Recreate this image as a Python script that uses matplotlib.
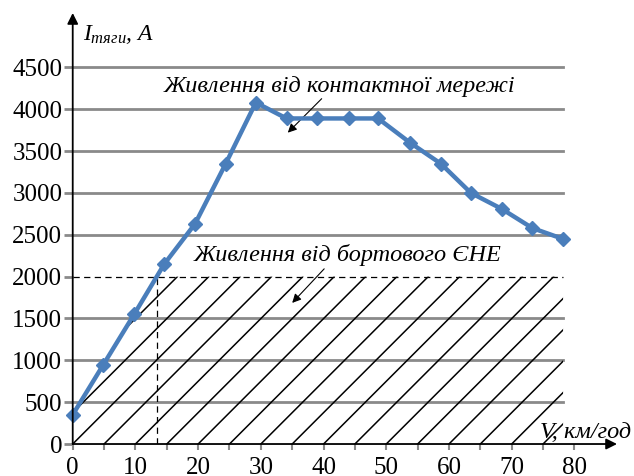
import numpy as np
import matplotlib
matplotlib.use('Agg')
import matplotlib.pyplot as plt
from matplotlib.patches import Polygon

plt.rcParams['font.family'] = ['Liberation Serif', 'DejaVu Serif']
plt.rcParams['mathtext.fontset'] = 'custom'
plt.rcParams['mathtext.rm'] = 'Liberation Serif'
plt.rcParams['mathtext.it'] = 'Liberation Serif:italic'

# speed, km/h and traction current, A
speed = [0, 4.9, 9.8, 14.6, 19.5, 24.4, 29.2, 34.1, 39.0, 44.0, 48.7,
         53.8, 58.7, 63.5, 68.4, 73.3, 78.2]
current = [350, 950, 1550, 2150, 2630, 3350, 4080, 3890, 3890, 3890, 3890,
           3600, 3350, 3000, 2810, 2580, 2450]
battery_limit = 2000

x_ticks = list(range(0, 85, 5))
x_labels = [str(t) if t % 10 == 0 else '' for t in x_ticks]
y_ticks = list(range(0, 5000, 500))

label_grid = 'Живлення від контактної мережі'
label_batt = 'Живлення від бортового ЄНЕ'

blue = '#4a7ebb'
grey = '#8a8a8a'

fig = plt.figure(figsize=(6.34, 4.76), dpi=100)
ax = fig.add_axes([0.1147, 0.0672, 0.8585, 0.9055])
ax.set_xlim(0, 86.8)
ax.set_ylim(0, 5150)
for s in ax.spines.values():
    s.set_visible(False)

# axes drawn as arrows
arrow_kw = dict(arrowstyle='-|>', color='k', lw=1.3, mutation_scale=16,
                shrinkA=0, shrinkB=0)
ax.annotate('', xy=(1, 0), xytext=(0, 0), xycoords='axes fraction',
            arrowprops=arrow_kw, zorder=5)
ax.annotate('', xy=(0, 1), xytext=(0, 0), xycoords='axes fraction',
            arrowprops=arrow_kw, zorder=5)

ax.set_xticks(x_ticks, x_labels, fontsize=18)
ax.set_yticks(y_ticks, [str(t) for t in y_ticks], fontsize=18)
ax.tick_params(axis='x', direction='out', length=4, width=1.5, color=grey, pad=5)
ax.tick_params(axis='y', direction='out', length=6.5, width=2, color=grey, pad=1)

# horizontal grid up to the last point
x_end = speed[-1]
for t in y_ticks[1:]:
    if t == battery_limit:
        continue
    ax.plot([0, x_end], [t, t], color=grey, lw=2, zorder=1)

# region fed from the onboard source, hatched
xs = np.linspace(0, x_end, 2000)
ys = np.minimum(np.interp(xs, speed, current), battery_limit)
region = Polygon([(0, 0)] + list(zip(xs, ys)) + [(x_end, 0)], closed=True,
                 facecolor='none', edgecolor='none', transform=ax.transData)
ax.add_patch(region)

p0, p1 = ax.transData.transform([(0, 0), (1, 1)])
k_slope = (p1[0] - p0[0]) / (p1[1] - p0[1])  # data-y per data-x at 45 deg
for x0 in range(-40, 85, 5):
    ln, = ax.plot([x0, x0 + battery_limit / k_slope], [0, battery_limit],
                  color='k', lw=1.1, zorder=2)
    ln.set_clip_path(region)

v_cross = np.interp(battery_limit, current[:5], speed[:5])
dash = (0, (5, 3.5))
ax.plot([0, x_end], [battery_limit, battery_limit], color='k', lw=0.9,
        linestyle=dash, zorder=3)
ax.plot([v_cross, v_cross], [0, battery_limit], color='k', lw=0.9,
        linestyle=dash, zorder=3)

ax.plot(speed, current, color=blue, lw=3.2, marker='D', markersize=7,
        zorder=4, clip_on=False)

# annotations
ann_kw = dict(arrowstyle='-|>', color='k', lw=0.8, mutation_scale=13,
              shrinkA=0, shrinkB=0)
ax.text(42.5, 4270, label_grid, fontsize=17.5, style='italic', ha='center', va='center')
ax.annotate('', xy=(34.3, 3720), xytext=(39.7, 4126), arrowprops=ann_kw)
ax.text(43.8, 2260, label_batt, fontsize=17.5, style='italic', ha='center', va='center')
ax.annotate('', xy=(35.0, 1686), xytext=(40.1, 2093), arrowprops=ann_kw)

ax.text(1.6, 4830, r'$\mathit{I}_{\mathit{тяги}}$, A', fontsize=17, style='italic',
        ha='left', va='baseline')
ax.text(74.5, 143, 'V, км/год', fontsize=17.5, style='italic', ha='left',
        va='center', clip_on=False)

fig.savefig('out.png', dpi=100)
